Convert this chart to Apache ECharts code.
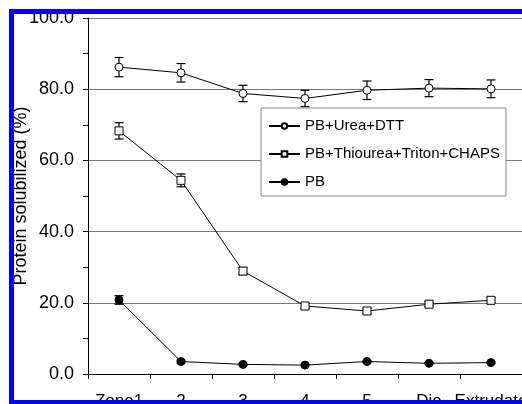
<!DOCTYPE html>
<html>
<head>
<meta charset="utf-8">
<script src="https://cdn.jsdelivr.net/npm/echarts@6/dist/echarts.min.js"></script>
<style>
  html, body { margin: 0; padding: 0; background: #fff; }
  #chart { width: 522px; height: 404px; }
</style>
</head>
<body>
<div id="chart"></div>
<script>
// Stages along the extruder
const categories = ['Zone1', '2', '3', '4', '5', 'Die', 'Extrudate'];

// Protein solubilized (%) per extraction buffer, with +/- error
const ureaDtt = [86.2, 84.6, 78.8, 77.4, 79.7, 80.3, 80.1];
const ureaDttErr = [2.7, 2.6, 2.3, 2.3, 2.6, 2.4, 2.5];
const thiourea = [68.3, 54.4, 28.9, 19.1, 17.7, 19.6, 20.7];
const thioureaErr = [2.3, 1.8, 1.0, 0.7, 0.8, 0.7, 0.7];
const pb = [20.8, 3.5, 2.7, 2.5, 3.5, 3.0, 3.2];
const pbErr = [1.2, 0.4, 0.3, 0.3, 0.3, 0.3, 0.3];

const names = ['PB+Urea+DTT', 'PB+Thiourea+Triton+CHAPS', 'PB'];
const FONT = 'Liberation Sans, Arial, sans-serif';

// error bars as [xIndex, low, high]
function errData(vals, errs) {
  return vals.map((v, i) => [i, v - errs[i], v + errs[i]]);
}

function errorBars(data) {
  return {
    type: 'custom',
    silent: true,
    z: 3,
    data,
    renderItem(params, api) {
      const x = api.value(0);
      const lo = api.coord([x, api.value(1)]);
      const hi = api.coord([x, api.value(2)]);
      const hw = 4.5;
      const st = { stroke: '#000', lineWidth: 1.2 };
      return {
        type: 'group',
        children: [
          { type: 'line', shape: { x1: hi[0], y1: hi[1], x2: lo[0], y2: lo[1] }, style: st },
          { type: 'line', shape: { x1: hi[0] - hw, y1: hi[1], x2: hi[0] + hw, y2: hi[1] }, style: st },
          { type: 'line', shape: { x1: lo[0] - hw, y1: lo[1], x2: lo[0] + hw, y2: lo[1] }, style: st },
        ],
      };
    },
  };
}

function lineSeries(name, data, symbol, filled) {
  return {
    name,
    type: 'line',
    data,
    symbol,
    symbolSize: 8,
    showAllSymbol: true,
    z: 4,
    lineStyle: { color: '#000', width: 1 },
    itemStyle: { color: filled ? '#000' : '#fff', borderColor: '#000', borderWidth: 1 },
    emphasis: { disabled: true },
  };
}

const chart = echarts.init(document.getElementById('chart'), null, { renderer: 'canvas' });

chart.setOption({
  animation: false,
  backgroundColor: '#fff',
  textStyle: { fontFamily: FONT, color: '#000' },
  grid: { left: 88, right: 0, top: 18, bottom: 30, outerBoundsMode: 'none', containLabel: false },
  legend: {
    orient: 'vertical',
    left: 261,
    top: 108,
    data: names,
    backgroundColor: '#fff',
    borderColor: '#888',
    borderWidth: 1,
    borderRadius: 0,
    padding: [10, 6, 6, 7],
    itemWidth: 31,
    itemHeight: 7,
    itemGap: 12,
    textStyle: { fontFamily: FONT, fontSize: 15, color: '#000', lineHeight: 16 },
    z: 10,
  },
  xAxis: {
    type: 'category',
    data: categories,
    boundaryGap: true,
    axisLine: { lineStyle: { color: '#000', width: 1 } },
    axisTick: { show: true, length: 5, lineStyle: { color: '#000' } },
    axisLabel: { color: '#000', fontFamily: FONT, fontSize: 17, margin: 19, interval: 0 },
    splitLine: { show: false },
  },
  yAxis: {
    type: 'value',
    min: 0,
    max: 100,
    interval: 20,
    name: 'Protein solubilized (%)',
    nameLocation: 'middle',
    nameGap: 58,
    nameMoveOverlap: false,
    nameTextStyle: { fontFamily: FONT, fontSize: 18, color: '#000' },
    axisLine: { show: true, lineStyle: { color: '#000', width: 1 } },
    axisTick: { show: true, length: 5, lineStyle: { color: '#000' } },
    minorTick: { show: true, splitNumber: 2, length: 5, lineStyle: { color: '#000' } },
    axisLabel: {
      color: '#000', fontFamily: FONT, fontSize: 18, margin: 14,
      formatter: (v) => v.toFixed(1),
    },
    splitLine: { show: true, lineStyle: { color: '#7a7a7a', width: 1 } },
  },
  graphic: [
    // blue frame around the figure
    { type: 'rect', z: 100, shape: { x: 9, y: 9, width: 513, height: 5 }, style: { fill: '#0000ff' } },
    { type: 'rect', z: 100, shape: { x: 9, y: 9, width: 5, height: 395 }, style: { fill: '#0000ff' } },
    { type: 'rect', z: 100, shape: { x: 9, y: 400, width: 513, height: 4 }, style: { fill: '#0000ff' } },
  ],
  series: [
    lineSeries(names[0], ureaDtt, 'circle', false),
    lineSeries(names[1], thiourea, 'rect', false),
    lineSeries(names[2], pb, 'circle', true),
    errorBars(errData(ureaDtt, ureaDttErr)),
    errorBars(errData(thiourea, thioureaErr)),
    errorBars(errData(pb, pbErr)),
  ],
});
</script>
</body>
</html>
